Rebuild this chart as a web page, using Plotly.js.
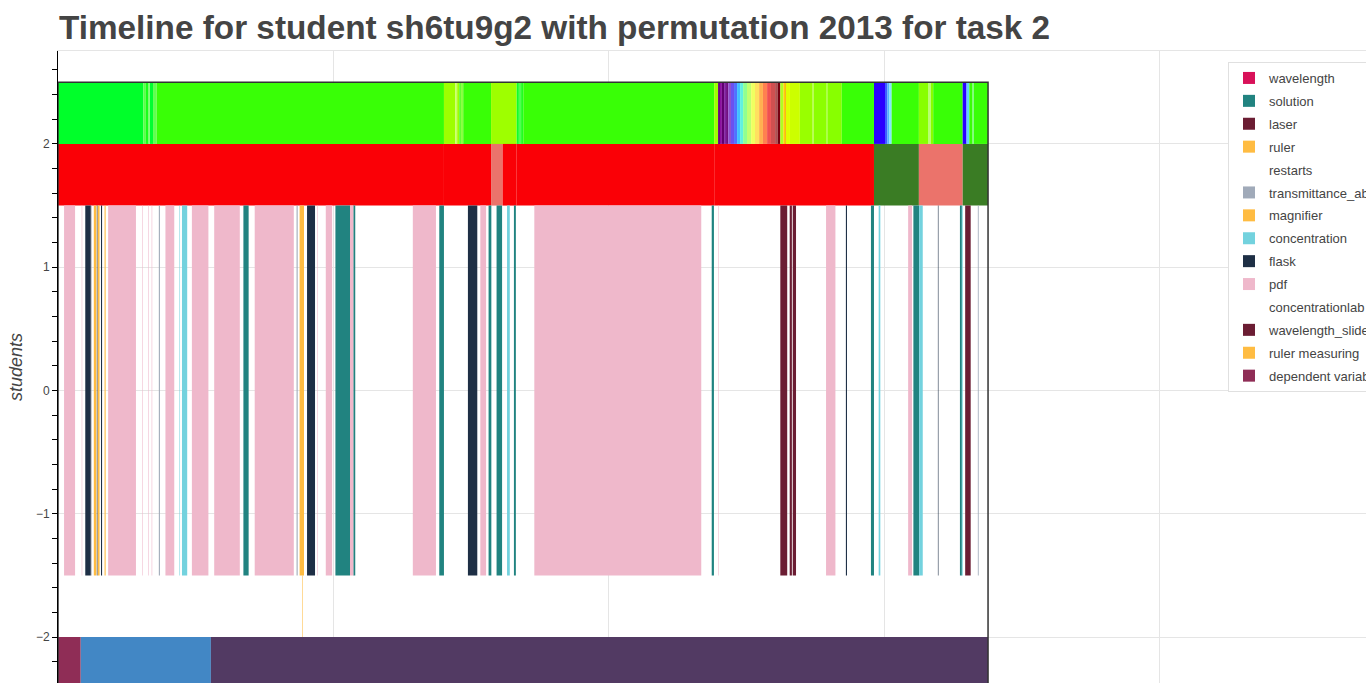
<!DOCTYPE html>
<html>
<head>
<meta charset="utf-8">
<script src="https://cdn.plot.ly/plotly-3.0.1.min.js"></script>
<style>html,body{margin:0;padding:0;background:#fff;overflow:hidden}</style>
</head>
<body>
<div id="chart" style="width:1366px;height:683px"></div>
<script>
// ---- data (time in seconds) ----
const titleText = "Timeline for student sh6tu9g2 with permutation 2013 for task 2";
const yTitle = "students";

// top row: wavelength colour stripes (boundaries + colours)
const topBounds = [0,310,319,329,334,345,358,1401,1442,1449,1456,1463,1471,1572,1665,1673,1681,1689,2382,2396,2403,2410,2418,2425,2433,2443,2454,2465,2476,2487,2501,2516,2530,2545,2559,2574,2588,2603,2612,2622,2633,2639,2642,2657,2693,2737,2744,2788,2795,2845,2962,3002,3011,3018,3026,3125,3158,3169,3177,3284,3298,3308,3320,3325,3376];
const topColors = ["#00FF2A","#5CFF4A","#1AFF1A","#88FF7A","#00FF30","#60FF50","#39FF06","#9EFF00","#C8FF60","#9EFF00","#60FF30","#88FF40","#39FF06","#9EFF00","#10FF2A","#50FF50","#20FF20","#39FF06","#9EFF00","#6A0080","#8C10A0","#600070","#8020A0","#701080","#9050D0","#6A50F0","#5070FF","#40C0FF","#60F0E0","#90FF90","#C0FF70","#F0FF60","#FFE060","#FFB050","#FF8050","#F05050","#D05050","#B05050","#7A0010","#B0FF20","#FFD000","#FF9000","#E0FF00","#CCFF00","#99FF00","#B8FF50","#8CFF00","#A8FF40","#88FF00","#39FF06","#2A00FF","#3C60FF","#50B8FF","#80E8FF","#39FF06","#88FF00","#B8FF70","#88FF00","#39FF06","#2A00FF","#60D0FF","#39FF06","#80FF80","#39FF06"];

// second row: state row
const rowBounds = [0,1401,1572,1614,1665,2382,2962,3125,3284,3376];
const rowColors = ["#FA0006","#FA0006","#EB736B","#FA0006","#FA0006","#FA0006","#3A7C24","#EB736B","#3A7C24"];

// bottom row: phases
const phaseStart = [82,555];
const phaseEnd = [555,3376];
const phaseColors = ["#4287C5","#523A63"];

// activity rows (start / end)
const wavelengthStart = [], wavelengthEnd = [];
const solutionStart = [673,1007,1072,1384,1563,1592,1655,2373,2951,3105,3274];
const solutionEnd   = [692,1060,1079,1401,1573,1612,1662,2381,2962,3126,3281];
const laserStart = [2622], laserEnd = [2647];
const rulerStart = [130,169,877], rulerEnd = [139,173,893];
const restartsStart = [], restartsEnd = [];
const transStart = [119,366,866,3339], transEnd = [122,370,870,3342];
const magnifierStart = [144], magnifierEnd = [151];
const concStart = [441,450,1630,2979,3126,3281], concEnd = [443,469,1640,2985,3139,3284];
const flaskStart = [99,141,156,904,1488,2860,3194], flaskEnd = [119,143,160,933,1522,2864,3196];
const pdfStart = [22,86,182,306,328,340,390,486,567,714,941,972,1060,1288,1533,1729,2396,2788,3086];
const pdfEnd   = [62,88,283,308,330,342,422,546,660,856,943,995,1072,1372,1554,2335,2398,2822,3100];
const conclabStart = [], conclabEnd = [];
const sliderStart = [2656,2667,3293], sliderEnd = [2664,2679,3313];
const rulerMeasStart = [886], rulerMeasEnd = [888];
const depVarStart = [0], depVarEnd = [82];

// ---- traces ----
function barTrace(name, starts, ends, color, yc, h, showlegend) {
  const n = starts.length;
  if (n === 0) {
    return {type:'bar', orientation:'h', name:name, x:[null], y:[null], base:[null],
            marker:{color:color}, showlegend:showlegend, legendgroup:name, hoverinfo:'skip'};
  }
  return {
    type:'bar', orientation:'h', name:name,
    base: starts,
    x: ends.map((e,i)=>e-starts[i]),
    y: starts.map(()=>yc),
    width: starts.map(()=>h),
    marker:{color:color, line:{width:0}},
    showlegend: showlegend, legendgroup:name, hoverinfo:'name'
  };
}

const traces = [];
// rows without legend
traces.push(barTrace('wavelength colour', topBounds.slice(0,-1), topBounds.slice(1), topColors, 2.25, 0.5, false));
traces.push(barTrace('state', rowBounds.slice(0,-1), rowBounds.slice(1), rowColors, 1.75, 0.5, false));
traces.push(barTrace('phase', phaseStart, phaseEnd, phaseColors, -2.25, 0.5, false));

traces.push(barTrace('wavelength', wavelengthStart, wavelengthEnd, '#D81159', 0, 3, true));
traces.push(barTrace('solution', solutionStart, solutionEnd, '#218380', 0, 3, true));
traces.push(barTrace('laser', laserStart, laserEnd, '#6B1D33', 0, 3, true));
traces.push(barTrace('ruler', rulerStart, rulerEnd, '#FFBC42', 0, 3, true));
traces.push(barTrace('restarts', restartsStart, restartsEnd, '#FFFFFF', 0, 3, true));
traces.push(barTrace('transmittance_absorbance', transStart, transEnd, '#A0AAB9', 0, 3, true));
traces.push(barTrace('magnifier', magnifierStart, magnifierEnd, '#FFBC42', 0, 3, true));
traces.push(barTrace('concentration', concStart, concEnd, '#73D2DE', 0, 3, true));
traces.push(barTrace('flask', flaskStart, flaskEnd, '#1E2F45', 0, 3, true));
traces.push(barTrace('pdf', pdfStart, pdfEnd, '#EFB8CB', 0, 3, true));
traces.push(barTrace('concentrationlab', conclabStart, conclabEnd, '#FFFFFF', 0, 3, true));
traces.push(barTrace('wavelength_slider', sliderStart, sliderEnd, '#6B1D33', 0, 3, true));
traces.push(barTrace('ruler measuring', rulerMeasStart, rulerMeasEnd, '#FFBC42', -1.75, 0.5, true));
traces.push(barTrace('dependent variable', depVarStart, depVarEnd, '#8F2D56', -2.25, 0.5, true));

const tEnd = topBounds[topBounds.length-1];

const layout = {
  width:1366, height:683,
  margin:{l:58, r:0, t:51, b:0, autoexpand:false},
  paper_bgcolor:'#fff', plot_bgcolor:'#fff',
  font:{family:'"Liberation Sans", Arial, sans-serif', color:'#444', size:12},
  barmode:'overlay',
  title:{text:'<b>'+titleText+'</b>', font:{size:33.3, color:'#444'},
         x:59/1366, xanchor:'left', xref:'container', y:1-27/683, yanchor:'middle', yref:'container'},
  xaxis:{range:[0,4748], dtick:1000, side:'top', showticklabels:false, ticks:'',
         showgrid:true, gridcolor:'#e5e5e5', zeroline:false,
         showline:true, linecolor:'#e5e5e5', linewidth:1},
  yaxis:{range:[-2.373,2.754], dtick:1, showgrid:true, gridcolor:'#e5e5e5', zeroline:false,
         showline:true, linecolor:'#000', linewidth:1,
         ticks:'outside', ticklen:5, tickcolor:'#000',
         minor:{dtick:0.2, ticks:'outside', ticklen:5, tickcolor:'#000', showgrid:false},
         tickfont:{size:12, color:'#444'},
         title:{text:'<i>'+yTitle+'</i>', font:{size:18, color:'#444'}, standoff:8}},
  legend:{x:(1228-58)/1308, xanchor:'left', y:1-(62-51)/632, yanchor:'top',
          bgcolor:'#fff', bordercolor:'#e0e0e0', borderwidth:1,
          font:{size:13, color:'#444'}, tracegroupgap:3, traceorder:'grouped'},
  shapes:[{type:'rect', xref:'x', yref:'y', x0:0, x1:tEnd, y0:-2.6, y1:2.5,
           line:{color:'#333', width:1.5}, fillcolor:'rgba(0,0,0,0)', layer:'above'}],
  showlegend:true
};

Plotly.newPlot('chart', traces, layout, {displayModeBar:false, staticPlot:true});
</script>
</body>
</html>
